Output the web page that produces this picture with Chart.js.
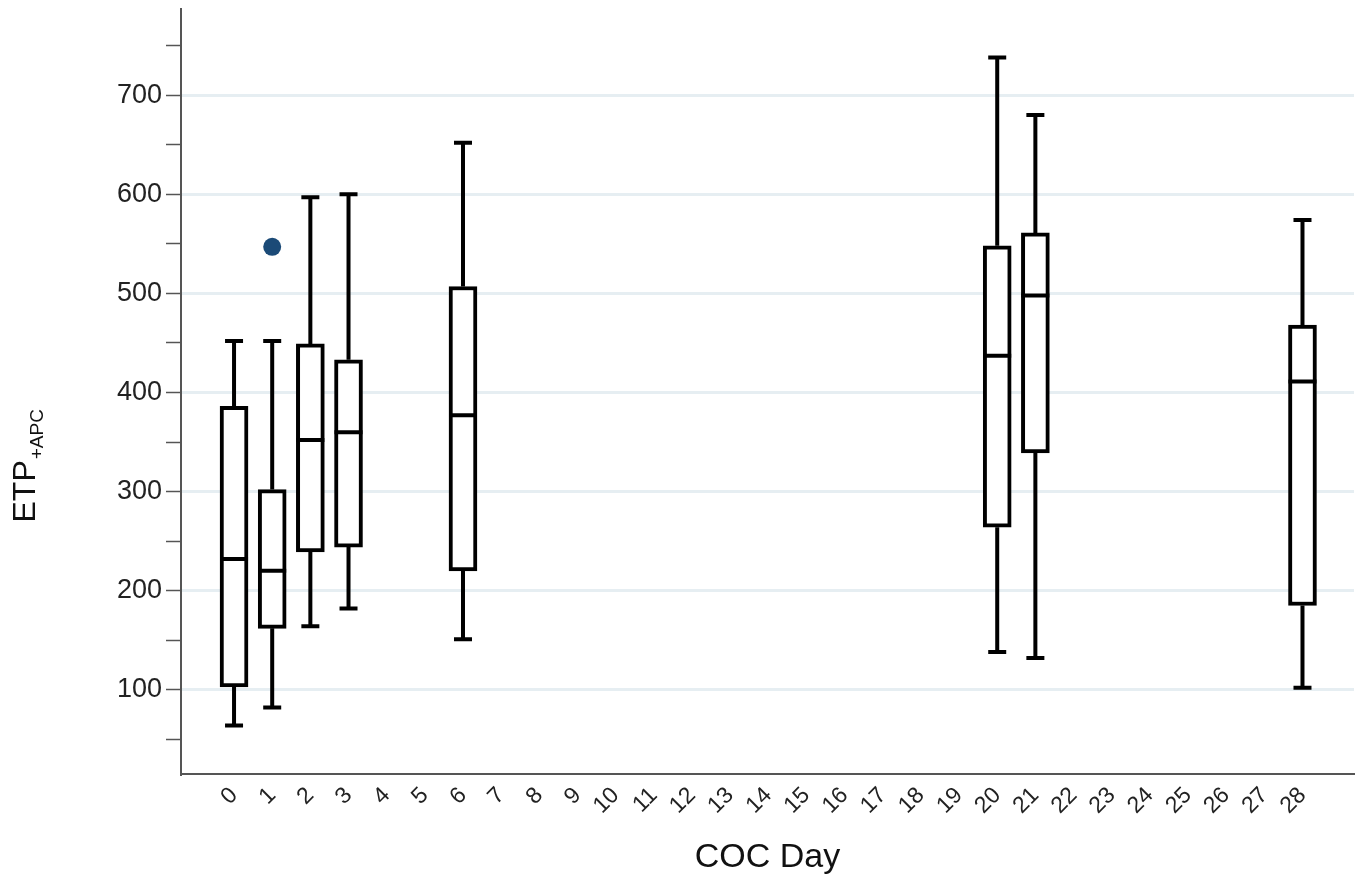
<!DOCTYPE html>
<html>
<head>
<meta charset="utf-8">
<title>ETP+APC by COC Day</title>
<script src="https://cdn.jsdelivr.net/npm/chart.js@4/dist/chart.umd.min.js"></script>
<style>
  html, body { margin: 0; padding: 0; background: #fff; }
  #wrap { width: 1363px; height: 882px; }
</style>
</head>
<body>
<div id="wrap"><canvas id="chart" width="1363" height="882"></canvas></div>
<script>
// box plot values per COC day
const days     = [0, 1, 2, 3, 6, 20, 21, 28];
const whiskLo  = [64, 82, 164, 182, 151, 138, 132, 102];
const q1       = [103, 162, 239, 244, 220, 264, 339, 185];
const medians  = [232, 220, 352, 360, 377, 437, 498, 411];
const q3       = [386, 302, 449, 433, 507, 548, 561, 468];
const whiskHi  = [452, 452, 597, 600, 652, 738, 680, 574];

// outside values
const outlierDays   = [1];
const outlierValues = [547];

// axis ticks
const xTicks = [0, 1, 2, 3, 4, 5, 6, 7, 8, 9, 10, 11, 12, 13, 14, 15, 16, 17, 18, 19, 20, 21, 22, 23, 24, 25, 26, 27, 28];
const yTicks = [50, 100, 150, 200, 250, 300, 350, 400, 450, 500, 550, 600, 650, 700, 750];
const yLabelled = [100, 200, 300, 400, 500, 600, 700];

const FONT = '"Liberation Sans", Arial, sans-serif';

// whiskers + medians, drawn from the scales
const boxExtras = {
  id: 'boxExtras',
  afterDatasetsDraw(chart) {
    const { ctx, scales: { x, y } } = chart;
    ctx.save();
    ctx.strokeStyle = '#000';
    ctx.lineWidth = 4;
    ctx.lineCap = 'butt';
    days.forEach((d, i) => {
      const cx = x.getPixelForValue(d);
      const half = 14, cap = 9;
      ctx.beginPath();
      // upper whisker
      ctx.moveTo(cx, y.getPixelForValue(q3[i]));
      ctx.lineTo(cx, y.getPixelForValue(whiskHi[i]));
      // lower whisker
      ctx.moveTo(cx, y.getPixelForValue(q1[i]));
      ctx.lineTo(cx, y.getPixelForValue(whiskLo[i]));
      // caps
      ctx.moveTo(cx - cap, y.getPixelForValue(whiskHi[i]));
      ctx.lineTo(cx + cap, y.getPixelForValue(whiskHi[i]));
      ctx.moveTo(cx - cap, y.getPixelForValue(whiskLo[i]));
      ctx.lineTo(cx + cap, y.getPixelForValue(whiskLo[i]));
      // median
      ctx.moveTo(cx - half, y.getPixelForValue(medians[i]));
      ctx.lineTo(cx + half, y.getPixelForValue(medians[i]));
      ctx.stroke();
    });
    ctx.restore();
  }
};

// y title with subscript
const yTitle = {
  id: 'yTitle',
  afterDraw(chart) {
    const { ctx, chartArea } = chart;
    ctx.save();
    ctx.translate(35, (chartArea.top + chartArea.bottom) / 2 + 131);
    ctx.rotate(-Math.PI / 2);
    ctx.fillStyle = '#111';
    ctx.textBaseline = 'alphabetic';
    ctx.textAlign = 'left';
    ctx.font = '32px ' + FONT;
    ctx.fillText('ETP', 0, 0);
    const w = ctx.measureText('ETP').width;
    ctx.font = '19px ' + FONT;
    ctx.fillText('+APC', w + 1, 8);
    ctx.restore();
  }
};

new Chart(document.getElementById('chart'), {
  type: 'bar',
  data: {
    datasets: [
      {
        type: 'bar',
        data: days.map((d, i) => ({ x: d, y: [q1[i], q3[i]] })),
        backgroundColor: '#fff',
        borderColor: '#000',
        borderWidth: 4,
        borderSkipped: false,
        barThickness: 28,
        grouped: false,
        order: 2
      },
      {
        type: 'scatter',
        data: outlierDays.map((d, i) => ({ x: d, y: outlierValues[i] })),
        backgroundColor: '#1b4a77',
        borderColor: '#1b4a77',
        pointRadius: 9,
        borderWidth: 0,
        order: 1
      }
    ]
  },
  options: {
    responsive: false,
    animation: false,
    layout: { padding: { top: 1, right: 8, left: 0, bottom: 0 } },
    plugins: { legend: { display: false }, tooltip: { enabled: false } },
    scales: {
      x: {
        type: 'linear',
        offset: false,
        min: -1.39,
        max: 29.35,
        afterBuildTicks: s => { s.ticks = xTicks.map(v => ({ value: v })); },
        afterFit: s => { s.height = 108; s.paddingLeft = 0; s.paddingRight = 0; },
        grid: { display: false, drawTicks: false, offset: false },
        border: { display: true, color: '#555', width: 2 },
        ticks: {
          autoSkip: false,
          minRotation: 45,
          maxRotation: 45,
          padding: 8,
          color: '#222',
          font: { family: FONT, size: 23 },
          callback: v => String(v)
        },
        title: {
          display: true,
          text: 'COC Day',
          color: '#111',
          font: { family: FONT, size: 34 },
          padding: { top: 0, bottom: 4 }
        }
      },
      y: {
        min: 15,
        max: 787,
        afterBuildTicks: s => { s.ticks = yTicks.map(v => ({ value: v })); },
        afterFit: s => { s.width = 181; s.paddingTop = 0; s.paddingBottom = 0; },
        grid: {
          color: c => (c.tick && yLabelled.includes(c.tick.value)) ? '#e6eef2' : 'rgba(0,0,0,0)',
          lineWidth: 3,
          drawTicks: true,
          tickLength: 15,
          tickColor: '#555',
          tickWidth: 1.5
        },
        border: { display: true, color: '#555', width: 2 },
        ticks: {
          padding: 4,
          color: '#222',
          font: { family: FONT, size: 27 },
          callback: v => yLabelled.includes(v) ? String(v) : ''
        }
      }
    }
  },
  plugins: [boxExtras, yTitle]
});
</script>
</body>
</html>
